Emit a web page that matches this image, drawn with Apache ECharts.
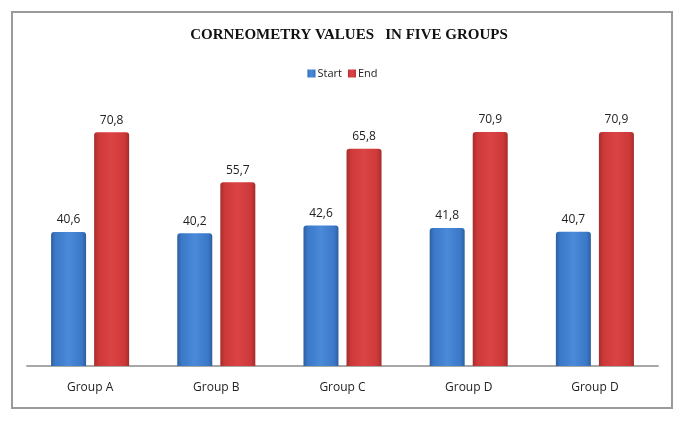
<!DOCTYPE html>
<html>
<head>
<meta charset="utf-8">
<script src="https://cdn.jsdelivr.net/npm/echarts@6/dist/echarts.min.js"></script>
<style>
  html, body { margin: 0; padding: 0; background: #fff; }
  #myChart { width: 685px; height: 422px; }
</style>
</head>
<body>
<div id="myChart"></div>
<script>
  // data
  var categories = ['Group A', 'Group B', 'Group C', 'Group D', 'Group D'];
  var startValues = [40.6, 40.2, 42.6, 41.8, 40.7];
  var endValues = [70.8, 55.7, 65.8, 70.9, 70.9];
  var seriesNames = ['Start', 'End'];

  function barColor(light, mid, dark) {
    return new echarts.graphic.LinearGradient(0, 0, 1, 0, [
      { offset: 0, color: dark },
      { offset: 0.12, color: mid },
      { offset: 0.5, color: light },
      { offset: 0.88, color: mid },
      { offset: 1, color: dark }
    ]);
  }

  var labelStyle = {
    show: true,
    position: 'top',
    distance: 6,
    color: '#222',
    fontFamily: 'Open Sans',
    fontSize: 12,
    formatter: function (p) { return String(p.value).replace('.', ','); }
  };

  var myChart = echarts.init(document.getElementById('myChart'));
  myChart.setOption({
    animation: false,
    backgroundColor: '#fff',
    title: {
      text: 'CORNEOMETRY VALUES   IN FIVE GROUPS',
      left: 344,
      textAlign: 'center',
      top: 23,
      textStyle: {
        fontFamily: 'Liberation Serif',
        fontWeight: 'bold',
        fontSize: 15,
        color: '#111'
      }
    },
    legend: {
      data: seriesNames,
      left: 'center',
      top: 63,
      icon: 'rect',
      itemWidth: 8,
      itemHeight: 8,
      itemGap: 6,
      textStyle: { fontFamily: 'Open Sans', fontSize: 11, color: '#222', padding: [0, 0, 0, -3] }
    },
    graphic: [{
      type: 'rect',
      shape: { x: 12, y: 12, width: 660, height: 396 },
      style: { fill: 'none', stroke: '#9a9a9a', lineWidth: 2 },
      silent: true
    }],
    grid: { left: 27, right: 27, top: 102, bottom: 56 },
    xAxis: {
      type: 'category',
      data: categories,
      axisLine: { lineStyle: { color: '#a8a8a8', width: 2 } },
      axisTick: { show: false },
      axisLabel: { margin: 16, fontFamily: 'Open Sans', fontSize: 12, color: '#222' }
    },
    yAxis: {
      type: 'value',
      min: 0,
      max: 80,
      show: false,
      splitLine: { show: false }
    },
    series: [{
      name: seriesNames[0],
      type: 'bar',
      data: startValues,
      barWidth: 35,
      barGap: '23%',
      itemStyle: {
        color: barColor('#4a8ad8', '#3b78c8', '#2d5f9e'),
        borderRadius: [3, 3, 0, 0]
      },
      label: labelStyle
    }, {
      name: seriesNames[1],
      type: 'bar',
      data: endValues,
      barWidth: 35,
      barGap: '23%',
      itemStyle: {
        color: barColor('#dc4444', '#cc3838', '#a32c2c'),
        borderRadius: [3, 3, 0, 0]
      },
      label: labelStyle
    }]
  });
</script>
</body>
</html>
